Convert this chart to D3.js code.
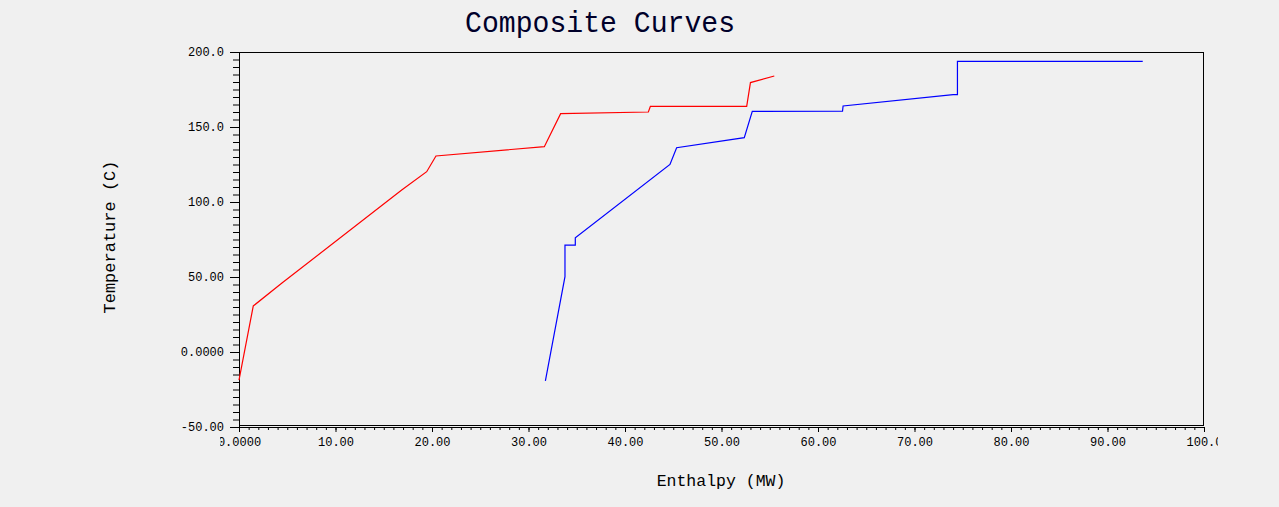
<!DOCTYPE html>
<html>
<head>
<meta charset="utf-8">
<script src="https://cdn.jsdelivr.net/npm/d3@7"></script>
<style>
  html, body { margin: 0; padding: 0; background: #f0f0f0; }
  svg { display: block; }
  text { font-family: "Liberation Mono", "DejaVu Sans Mono", monospace; }
</style>
</head>
<body>
<div id="chart"></div>
<script>
/* ═══ Composite Curves — hot / cold ═══ */

// Hot composite (enthalpy MW, temperature C)
const hotH = [0.0, 1.48, 4.42, 16.86, 19.45, 20.41, 31.64, 33.33, 42.42, 42.63, 52.61, 53.0, 55.47];
const hotT = [-18.7, 30.7, 45.8, 108.0, 120.2, 130.7, 136.9, 158.9, 160.0, 163.8, 163.8, 179.6, 184.0];

// Cold composite
const coldH = [31.75, 33.78, 33.78, 34.85, 34.85, 44.66, 45.35, 52.36, 53.19, 62.54, 62.6, 74.0, 74.45, 74.45, 93.65];
const coldT = [-19.3, 50.2, 71.3, 71.3, 76.2, 125.1, 136.2, 142.9, 160.4, 160.5, 164.0, 171.6, 171.6, 193.8, 193.8];

const xTicks = [0, 10, 20, 30, 40, 50, 60, 70, 80, 90, 100];
const xTickLabels = ['0.0000', '10.00', '20.00', '30.00', '40.00', '50.00', '60.00', '70.00', '80.00', '90.00', '100.0'];
const yTicks = [-50, 0, 50, 100, 150, 200];
const yTickLabels = ['-50.00', '0.0000', '50.00', '100.0', '150.0', '200.0'];

const W = 1279, H = 507;

const svg = d3.select('#chart').append('svg')
  .attr('width', W).attr('height', H)
  .style('background', '#f0f0f0');

const x = d3.scaleLinear().domain([0, 100]).range([239, 1204]);
const y = d3.scaleLinear().domain([-50, 200]).range([427, 52]);

// ── Plot frame ──
svg.append('rect')
  .attr('x', 239.5).attr('y', 52.5)
  .attr('width', 964).attr('height', 373)
  .attr('fill', 'none').attr('stroke', '#000').attr('stroke-width', 1);

// ── Clip for x tick labels (ends are cut in the original); in the axis group's own coords ──
svg.append('defs').append('clipPath').attr('id', 'xlabClip')
  .append('rect').attr('x', 220).attr('y', -10).attr('width', 998).attr('height', 40);

// ── X axis: major + minor ticks ──
const xMinor = svg.append('g').attr('transform', 'translate(0,427)')
  .call(d3.axisBottom(x).tickValues(d3.range(0, 101, 1)).tickSize(3).tickSizeOuter(0).tickFormat(''));
xMinor.select('.domain').attr('stroke', '#000');

const xMajor = svg.append('g').attr('transform', 'translate(0,427)')
  .attr('clip-path', 'url(#xlabClip)')
  .call(d3.axisBottom(x).tickValues(xTicks).tickSize(5).tickSizeOuter(0)
    .tickFormat((d, i) => xTickLabels[i]));
xMajor.select('.domain').remove();
xMajor.selectAll('text')
  .attr('font-family', '"Liberation Mono", monospace')
  .attr('font-size', '12px').attr('fill', '#000').attr('dy', '0.95em');

// ── Y axis: major + minor ticks ──
const yMinor = svg.append('g').attr('transform', 'translate(239,0)')
  .call(d3.axisLeft(y).tickValues(d3.range(-50, 201, 5)).tickSize(6).tickSizeOuter(0).tickFormat(''));
yMinor.select('.domain').attr('stroke', '#000');

const yMajor = svg.append('g').attr('transform', 'translate(239,0)')
  .call(d3.axisLeft(y).tickValues(yTicks).tickSize(9).tickSizeOuter(0)
    .tickFormat((d, i) => yTickLabels[i]));
yMajor.select('.domain').remove();
yMajor.selectAll('text')
  .attr('font-family', '"Liberation Mono", monospace')
  .attr('font-size', '12px').attr('fill', '#000').attr('x', -15);

svg.selectAll('.tick line').attr('stroke', '#000');

// ── Curves ──
const line = d3.line().x(d => x(d[0])).y(d => y(d[1]));

svg.append('path')
  .datum(hotH.map((h, i) => [h, hotT[i]]))
  .attr('d', line)
  .attr('fill', 'none').attr('stroke', '#ff0000').attr('stroke-width', 1.2);

svg.append('path')
  .datum(coldH.map((h, i) => [h, coldT[i]]))
  .attr('d', line)
  .attr('fill', 'none').attr('stroke', '#0000ff').attr('stroke-width', 1.2);

// ── Titles ──
svg.append('text')
  .attr('x', 600).attr('y', 32)
  .attr('text-anchor', 'middle')
  .attr('font-size', '30px').attr('fill', '#00002a')
  .attr('textLength', 270).attr('lengthAdjust', 'spacingAndGlyphs')
  .text('Composite Curves');

svg.append('text')
  .attr('x', 721).attr('y', 486)
  .attr('text-anchor', 'middle')
  .attr('font-size', '16.5px').attr('fill', '#000')
  .text('Enthalpy (MW)');

svg.append('text')
  .attr('transform', 'translate(115,237) rotate(-90)')
  .attr('text-anchor', 'middle')
  .attr('font-size', '17px').attr('fill', '#000')
  .text('Temperature (C)');
</script>
</body>
</html>
